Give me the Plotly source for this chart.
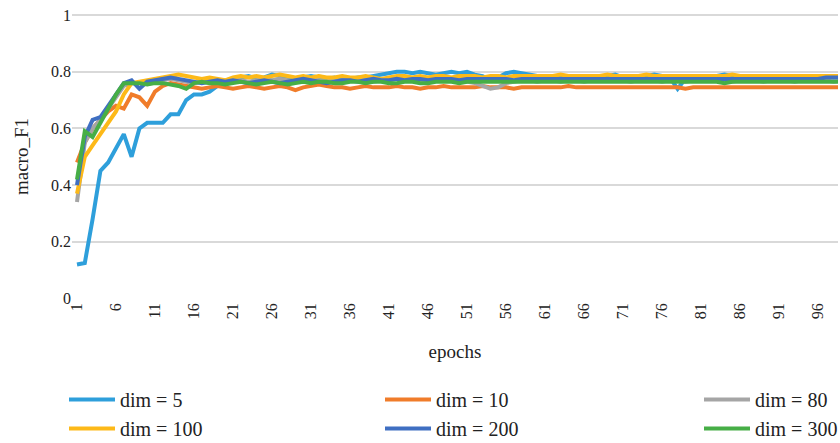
import plotly.graph_objects as go

epochs = list(range(1, 101))

dim5 = [0.12, 0.125, 0.28, 0.45, 0.48, 0.53, 0.58, 0.50, 0.60, 0.62,
        0.62, 0.62, 0.65, 0.65, 0.70, 0.72, 0.72, 0.73, 0.75, 0.76,
        0.77, 0.78, 0.785, 0.775, 0.78, 0.79, 0.785, 0.78, 0.775, 0.78,
        0.785, 0.78, 0.775, 0.78, 0.77, 0.775, 0.78, 0.78, 0.785, 0.79,
        0.795, 0.80, 0.80, 0.795, 0.80, 0.795, 0.79, 0.795, 0.80, 0.795,
        0.80, 0.79, 0.785, 0.77, 0.78, 0.795, 0.80, 0.795, 0.79, 0.785,
        0.785, 0.78, 0.785, 0.78, 0.785, 0.78, 0.785, 0.78, 0.785, 0.79,
        0.78, 0.785, 0.78, 0.785, 0.79, 0.785, 0.78, 0.74, 0.775, 0.78,
        0.785, 0.78, 0.785, 0.79, 0.785, 0.78, 0.785, 0.78, 0.785, 0.78,
        0.785, 0.78, 0.785, 0.78, 0.785, 0.78, 0.785, 0.78, 0.785, 0.78]

dim10 = [0.48, 0.55, 0.60, 0.63, 0.66, 0.68, 0.67, 0.72, 0.71, 0.68,
         0.73, 0.75, 0.76, 0.755, 0.75, 0.745, 0.74, 0.745, 0.75, 0.745,
         0.74, 0.745, 0.75, 0.745, 0.74, 0.745, 0.75, 0.745, 0.735, 0.745,
         0.75, 0.755, 0.75, 0.745, 0.745, 0.74, 0.745, 0.75, 0.745, 0.745,
         0.745, 0.75, 0.745, 0.745, 0.74, 0.745, 0.745, 0.75, 0.745, 0.745,
         0.745, 0.745, 0.75, 0.745, 0.745, 0.745, 0.74, 0.745, 0.745, 0.745,
         0.745, 0.745, 0.745, 0.75, 0.745, 0.745, 0.745, 0.745, 0.745, 0.745,
         0.745, 0.745, 0.745, 0.745, 0.745, 0.745, 0.745, 0.745, 0.74, 0.745,
         0.745, 0.745, 0.745, 0.745, 0.745, 0.745, 0.745, 0.745, 0.745, 0.745,
         0.745, 0.745, 0.745, 0.745, 0.745, 0.745, 0.745, 0.745, 0.745, 0.745]

dim80 = [0.34, 0.55, 0.60, 0.63, 0.67, 0.71, 0.75, 0.76, 0.76, 0.765,
         0.77, 0.77, 0.775, 0.77, 0.765, 0.76, 0.765, 0.77, 0.765, 0.77,
         0.775, 0.77, 0.765, 0.77, 0.775, 0.77, 0.775, 0.77, 0.765, 0.77,
         0.775, 0.77, 0.77, 0.765, 0.77, 0.77, 0.775, 0.77, 0.765, 0.77,
         0.77, 0.775, 0.77, 0.77, 0.765, 0.77, 0.77, 0.775, 0.77, 0.77,
         0.765, 0.76, 0.75, 0.74, 0.745, 0.76, 0.765, 0.77, 0.77, 0.765,
         0.77, 0.77, 0.765, 0.77, 0.77, 0.765, 0.77, 0.77, 0.775, 0.77,
         0.77, 0.765, 0.77, 0.77, 0.77, 0.765, 0.77, 0.77, 0.765, 0.77,
         0.77, 0.775, 0.77, 0.77, 0.765, 0.77, 0.77, 0.77, 0.765, 0.77,
         0.77, 0.77, 0.765, 0.77, 0.77, 0.77, 0.77, 0.765, 0.77, 0.77]

dim100 = [0.37, 0.50, 0.54, 0.58, 0.62, 0.66, 0.72, 0.76, 0.765, 0.77,
          0.775, 0.78, 0.785, 0.79, 0.785, 0.78, 0.775, 0.78, 0.775, 0.77,
          0.78, 0.785, 0.78, 0.785, 0.78, 0.785, 0.79, 0.785, 0.78, 0.785,
          0.78, 0.785, 0.78, 0.78, 0.785, 0.78, 0.78, 0.785, 0.78, 0.775,
          0.78, 0.785, 0.785, 0.78, 0.785, 0.78, 0.785, 0.785, 0.78, 0.785,
          0.785, 0.785, 0.78, 0.785, 0.785, 0.78, 0.785, 0.785, 0.785, 0.785,
          0.785, 0.785, 0.79, 0.785, 0.785, 0.785, 0.785, 0.785, 0.79, 0.785,
          0.785, 0.785, 0.785, 0.79, 0.785, 0.785, 0.785, 0.785, 0.785, 0.785,
          0.785, 0.785, 0.785, 0.785, 0.79, 0.785, 0.785, 0.785, 0.785, 0.785,
          0.785, 0.785, 0.785, 0.785, 0.785, 0.785, 0.785, 0.785, 0.785, 0.785]

dim200 = [0.40, 0.57, 0.63, 0.64, 0.68, 0.72, 0.76, 0.77, 0.74, 0.765,
          0.77, 0.775, 0.78, 0.775, 0.77, 0.765, 0.76, 0.765, 0.77, 0.765,
          0.77, 0.765, 0.76, 0.765, 0.77, 0.765, 0.76, 0.765, 0.77, 0.775,
          0.77, 0.765, 0.76, 0.765, 0.77, 0.77, 0.765, 0.77, 0.775, 0.77,
          0.77, 0.775, 0.77, 0.775, 0.775, 0.77, 0.775, 0.775, 0.775, 0.77,
          0.775, 0.775, 0.775, 0.775, 0.775, 0.775, 0.77, 0.775, 0.775, 0.775,
          0.775, 0.775, 0.775, 0.775, 0.775, 0.775, 0.775, 0.775, 0.775, 0.775,
          0.775, 0.775, 0.775, 0.775, 0.775, 0.775, 0.775, 0.775, 0.775, 0.775,
          0.775, 0.775, 0.775, 0.775, 0.775, 0.775, 0.775, 0.775, 0.775, 0.775,
          0.775, 0.775, 0.775, 0.775, 0.775, 0.775, 0.78, 0.78, 0.78, 0.78]

dim300 = [0.42, 0.59, 0.57, 0.62, 0.67, 0.72, 0.76, 0.76, 0.76, 0.755,
          0.76, 0.76, 0.755, 0.75, 0.74, 0.76, 0.765, 0.76, 0.76, 0.755,
          0.76, 0.765, 0.76, 0.755, 0.76, 0.765, 0.76, 0.755, 0.76, 0.765,
          0.76, 0.765, 0.765, 0.76, 0.76, 0.765, 0.765, 0.76, 0.765, 0.765,
          0.76, 0.76, 0.765, 0.765, 0.76, 0.76, 0.765, 0.765, 0.765, 0.76,
          0.765, 0.765, 0.765, 0.765, 0.765, 0.765, 0.765, 0.765, 0.765, 0.765,
          0.765, 0.765, 0.765, 0.765, 0.765, 0.765, 0.765, 0.765, 0.765, 0.765,
          0.765, 0.765, 0.765, 0.765, 0.765, 0.765, 0.765, 0.765, 0.765, 0.765,
          0.765, 0.765, 0.765, 0.76, 0.765, 0.765, 0.765, 0.765, 0.765, 0.765,
          0.765, 0.765, 0.765, 0.765, 0.765, 0.765, 0.765, 0.765, 0.765, 0.765]

series_names = ["dim = 5", "dim = 10", "dim = 80", "dim = 100", "dim = 200", "dim = 300"]
series_values = [dim5, dim10, dim80, dim100, dim200, dim300]
colors = ["#2E9FDB", "#F07C2A", "#A5A5A5", "#FDB918", "#3F6FC2", "#46AE46"]
legend_ids = ["legend", "legend2", "legend3", "legend", "legend2", "legend3"]

x_ticks = list(range(1, 100, 5))
y_ticks = [0, 0.2, 0.4, 0.6, 0.8, 1]
y_tick_labels = ["0", "0.2", "0.4", "0.6", "0.8", "1"]

FONT = "'Liberation Serif', 'DejaVu Serif', 'Times New Roman', serif"
TXT = "#222222"

fig = go.Figure()
for name, vals, col, lg in zip(series_names, series_values, colors, legend_ids):
    fig.add_trace(go.Scatter(
        x=epochs, y=vals, mode="lines", name=name,
        line=dict(color=col, width=4),
        legend=lg, legendgroup=name,
    ))

W, H = 840, 443
ml, mr, mt, mb = 72, 2, 14, 144
pw = W - ml - mr
ph = H - mt - mb

def px_to_paper_x(px):
    return (px - ml) / pw

def py_to_paper_y(py):
    return (H - mb - py) / ph

leg_common = dict(
    orientation="v", xanchor="left", yanchor="top",
    font=dict(family=FONT, size=20, color=TXT),
    bgcolor="rgba(0,0,0,0)", itemwidth=46, tracegroupgap=0,
)

fig.update_layout(
    width=W, height=H,
    margin=dict(l=ml, r=mr, t=mt, b=mb, autoexpand=False),
    plot_bgcolor="white", paper_bgcolor="white",
    font=dict(family=FONT, color=TXT),
    xaxis=dict(
        range=[0.36, 98.56], tickmode="array", tickvals=x_ticks,
        ticktext=[str(t) for t in x_ticks], tickangle=-90,
        tickfont=dict(family=FONT, size=16, color=TXT),
        showgrid=False, zeroline=False, showline=False, ticks="",
        title=dict(text="epochs", font=dict(family=FONT, size=19, color=TXT), standoff=26),
    ),
    yaxis=dict(
        range=[-0.002, 1.004], tickmode="array", tickvals=y_ticks, ticktext=y_tick_labels,
        tickfont=dict(family=FONT, size=16, color=TXT),
        showgrid=True, gridcolor="#D9D9D9", gridwidth=1.5,
        zeroline=False, showline=False, ticks="",
        title=dict(text="macro_F1", font=dict(family=FONT, size=19, color=TXT), standoff=17),
    ),
    legend=dict(x=px_to_paper_x(64), y=py_to_paper_y(380), **leg_common),
    legend2=dict(x=px_to_paper_x(380), y=py_to_paper_y(380), **leg_common),
    legend3=dict(x=px_to_paper_x(699), y=py_to_paper_y(380), **leg_common),
)

fig.write_html("out.html", config={"displayModeBar": False},
               post_script="document.body.style.margin='0';")
